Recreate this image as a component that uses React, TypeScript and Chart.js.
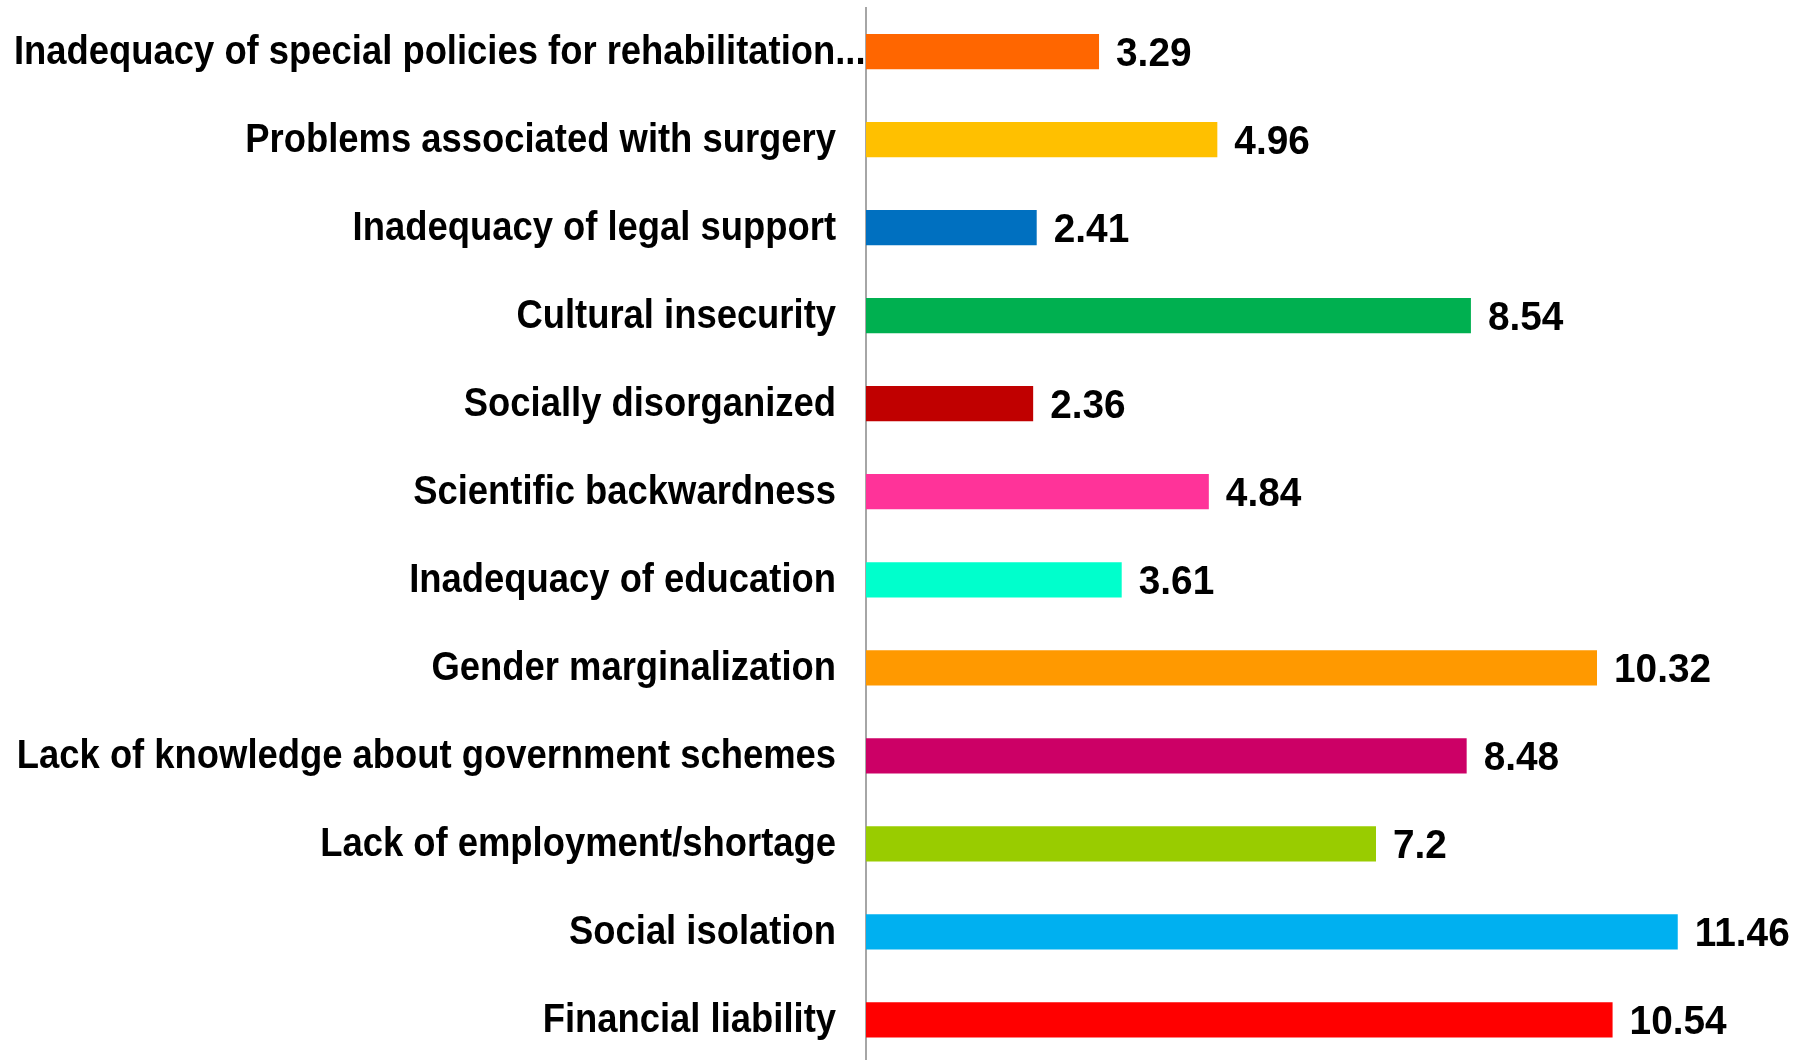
import React, { useEffect, useRef } from "react";
import { Chart, registerables } from "chart.js";

Chart.register(...registerables);

const categories = [
  "Inadequacy of special policies for rehabilitation...",
  "Problems associated with surgery",
  "Inadequacy of legal support",
  "Cultural insecurity",
  "Socially disorganized",
  "Scientific backwardness",
  "Inadequacy of education",
  "Gender marginalization",
  "Lack of knowledge about government schemes",
  "Lack of employment/shortage",
  "Social isolation",
  "Financial liability",
];

const values = [3.29, 4.96, 2.41, 8.54, 2.36, 4.84, 3.61, 10.32, 8.48, 7.2, 11.46, 10.54];

const barColors = [
  "#FF6600",
  "#FFC000",
  "#0070C0",
  "#00B050",
  "#C00000",
  "#FF3399",
  "#00FFCC",
  "#FF9900",
  "#CC0066",
  "#99CC00",
  "#00B0F0",
  "#FF0000",
];

const W = 1801;
const H = 1068;

function drawScaledText(ctx: CanvasRenderingContext2D, text: string, x: number, y: number, sx: number) {
  ctx.save();
  ctx.translate(x, y);
  ctx.scale(sx, 1);
  ctx.fillText(text, 0, 0);
  ctx.restore();
}

export default function App() {
  const ref = useRef<HTMLCanvasElement | null>(null);

  useEffect(() => {
    document.body.style.margin = "0";
    document.body.style.overflow = "hidden";
    const canvas = ref.current;
    if (!canvas) return;

    const labelsPlugin = {
      id: "customLabels",
      afterDatasetsDraw(chart: any) {
        const ctx = chart.ctx as CanvasRenderingContext2D;
        const yScale = chart.scales.y;
        const meta = chart.getDatasetMeta(0);
        ctx.save();
        ctx.fillStyle = "#000000";
        ctx.textBaseline = "middle";
        ctx.textAlign = "left";
        // category labels
        const labelSx = 0.91;
        ctx.font = "bold 40px 'Liberation Sans', Arial, sans-serif";
        const rightEdge = chart.chartArea.left - 30;
        categories.forEach((c, i) => {
          const y = yScale.getPixelForValue(i);
          const w = ctx.measureText(c).width * labelSx;
          const x = Math.max(14, rightEdge - w);
          drawScaledText(ctx, c, x, y + 1, labelSx);
        });
        // value labels
        const valSx = 0.97;
        ctx.font = "bold 40px 'Liberation Sans', Arial, sans-serif";
        meta.data.forEach((bar: any, i: number) => {
          drawScaledText(ctx, String(values[i]), bar.x + 17, bar.y + 3, valSx);
        });
        ctx.restore();
      },
    };

    const chart = new Chart(canvas, {
      type: "bar",
      data: {
        labels: categories,
        datasets: [
          {
            data: values,
            backgroundColor: barColors,
            borderWidth: 0,
            barPercentage: 0.4,
            categoryPercentage: 1,
          },
        ],
      },
      options: {
        indexAxis: "y",
        responsive: false,
        animation: false,
        layout: { padding: { top: 7.5, bottom: 4, left: 0, right: 0 } },
        plugins: {
          legend: { display: false },
          tooltip: { enabled: false },
          title: { display: false },
        },
        scales: {
          x: {
            display: false,
            min: 0,
            max: 13.2,
            grid: { display: false },
          },
          y: {
            display: true,
            grid: { display: false, drawTicks: false },
            border: { display: true, color: "#A6A6A6", width: 2 },
            ticks: { display: false },
            afterFit(scale: any) {
              scale.width = 866;
            },
          },
        },
      },
      plugins: [labelsPlugin],
    });

    return () => chart.destroy();
  }, []);

  return (
    <div style={{ width: W, height: H }}>
      <canvas ref={ref} width={W} height={H} style={{ display: "block" }} />
    </div>
  );
}
